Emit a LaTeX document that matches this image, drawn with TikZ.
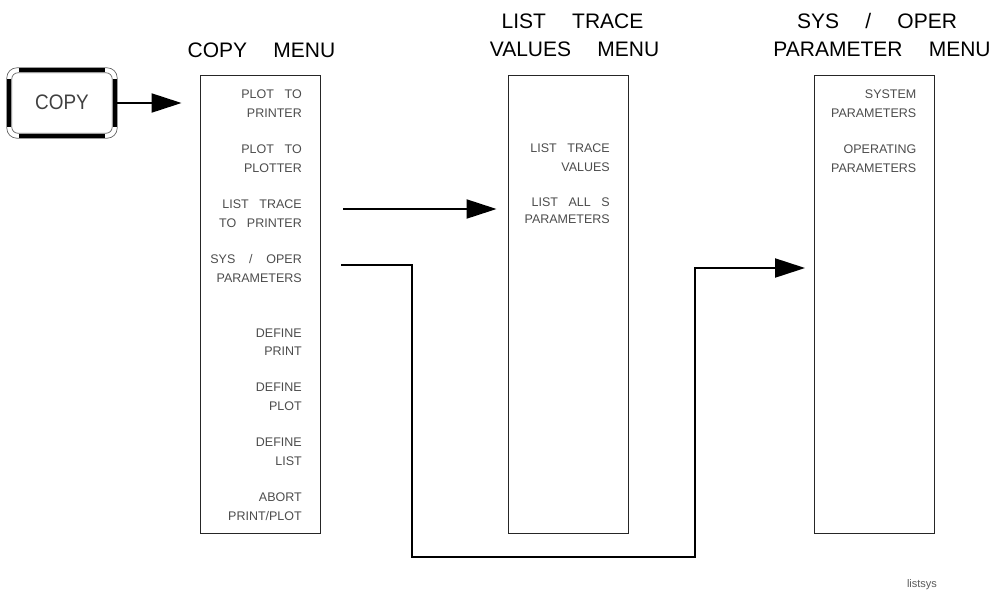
\documentclass[tikz,border=0pt]{standalone}
\usepackage{fontspec}
\setmainfont{Liberation Sans}
\usetikzlibrary{arrows.meta}
\newcommand{\ig}{\hspace{0.85em}}
\newcommand{\tg}{\hspace{1.25em}}
\tikzset{
  menubox/.style={draw=black!85, line width=0.9pt, minimum width=120pt, minimum height=458pt, inner sep=0pt},
  item/.style={anchor=base east, inner sep=0pt, text=black!70, font=\fontsize{12.5}{14}\selectfont},
  ttl/.style={anchor=base, inner sep=0pt, text=black, font=\fontsize{21}{24}\selectfont},
  conn/.style={line width=2pt, -{Triangle[length=30pt,width=19pt]}},
  keythin/.style={draw=black!60, line width=0.7pt},
  keythick/.style={line width=4pt, black},
}
\begin{document}
\begin{tikzpicture}[x=1pt,y=-1pt]
\useasboundingbox (0,0) rectangle (998,590);

% COPY key
\node[minimum width=110pt, minimum height=70pt, inner sep=0pt] (key) at (62,103) {};
\draw[keythin, rounded corners=10pt] (key.north west) rectangle (key.south east);
\draw[keythin, rounded corners=6pt] ([shift={(5,5)}]key.north west) rectangle ([shift={(-5,-5)}]key.south east);
\draw[keythick] ([shift={(12,2.5)}]key.north west) -- ([shift={(-12,2.5)}]key.north east);
\draw[keythick] ([shift={(12,-2.5)}]key.south west) -- ([shift={(-12,-2.5)}]key.south east);
\draw[keythick] ([shift={(2.5,11)}]key.north west) -- ([shift={(2.5,-11)}]key.south west);
\draw[keythick] ([shift={(-2.5,11)}]key.north east) -- ([shift={(-2.5,-11)}]key.south east);
\node[inner sep=0pt, text=black!75, font=\fontsize{21}{24}\selectfont] (keytxt) at (62,102) {\scalebox{0.9}[1]{COPY}};

% menu boxes
\node[menubox] (copymenu) at (260,304) {};
\node[menubox] (ltmenu) at (568,304) {};
\node[menubox] (sysmenu) at (874.5,304) {};

% titles
\node[ttl] (t1) at (261.5,57.5) {COPY\tg MENU};
\node[ttl] (t2a) at (572.5,28.3) {LIST\tg TRACE};
\node[ttl] (t2b) at (574.5,56) {VALUES\tg MENU};
\node[ttl] (t3a) at (877,28.3) {SYS\tg /\tg OPER};
\node[ttl] (t3b) at (882,56) {PARAMETER\tg MENU};

% COPY menu items
\node[item] (c1a) at (302,98.5) {PLOT\ig TO};
\node[item] (c1b) at (302,117) {PRINTER};
\node[item] (c2a) at (302,153.5) {PLOT\ig TO};
\node[item] (c2b) at (302,172) {PLOTTER};
\node[item] (c3a) at (302,208.5) {LIST\ig TRACE};
\node[item] (c3b) at (302,227) {TO\ig PRINTER};
\node[item] (c4a) at (302,263.5) {SYS\hspace{1.1em}/\hspace{1.1em}OPER};
\node[item] (c4b) at (302,282) {PARAMETERS};
\node[item] (c5a) at (302,337) {DEFINE};
\node[item] (c5b) at (302,355.5) {PRINT};
\node[item] (c6a) at (302,391.5) {DEFINE};
\node[item] (c6b) at (302,410) {PLOT};
\node[item] (c7a) at (302,446.5) {DEFINE};
\node[item] (c7b) at (302,465) {LIST};
\node[item] (c8a) at (302,501.5) {ABORT};
\node[item] (c8b) at (302,520) {PRINT/PLOT};

% LIST TRACE VALUES menu items
\node[item] (l1a) at (610,152.5) {LIST\ig TRACE};
\node[item] (l1b) at (610,171.5) {VALUES};
\node[item] (l2a) at (610,206.5) {LIST\ig ALL\ig S};
\node[item] (l2b) at (610,223.5) {PARAMETERS};

% SYS / OPER menu items
\node[item] (s1a) at (916.5,98.5) {SYSTEM};
\node[item] (s1b) at (916.5,117) {PARAMETERS};
\node[item] (s2a) at (916.5,153.5) {OPERATING};
\node[item] (s2b) at (916.5,172) {PARAMETERS};

% connectors
\draw[conn, shorten >=18pt] (key.east) -- (key.east -| copymenu.west);
\coordinate (ltstart) at (343,209);
\draw[conn, shorten >=11pt] (ltstart) -- (ltstart -| ltmenu.west);
\coordinate (sostart) at (341,265);
\coordinate (sysin) at (814,268);
\draw[conn, shorten >=9pt] (sostart) -- (412,265) -- (412,557) -- (695,557) -- (695,268) -- (sysin -| sysmenu.west);

% figure tag
\node[anchor=base, inner sep=0pt, text=black!65, font=\fontsize{11}{13}\selectfont] (tag) at (922,587) {listsys};
\end{tikzpicture}
\end{document}
